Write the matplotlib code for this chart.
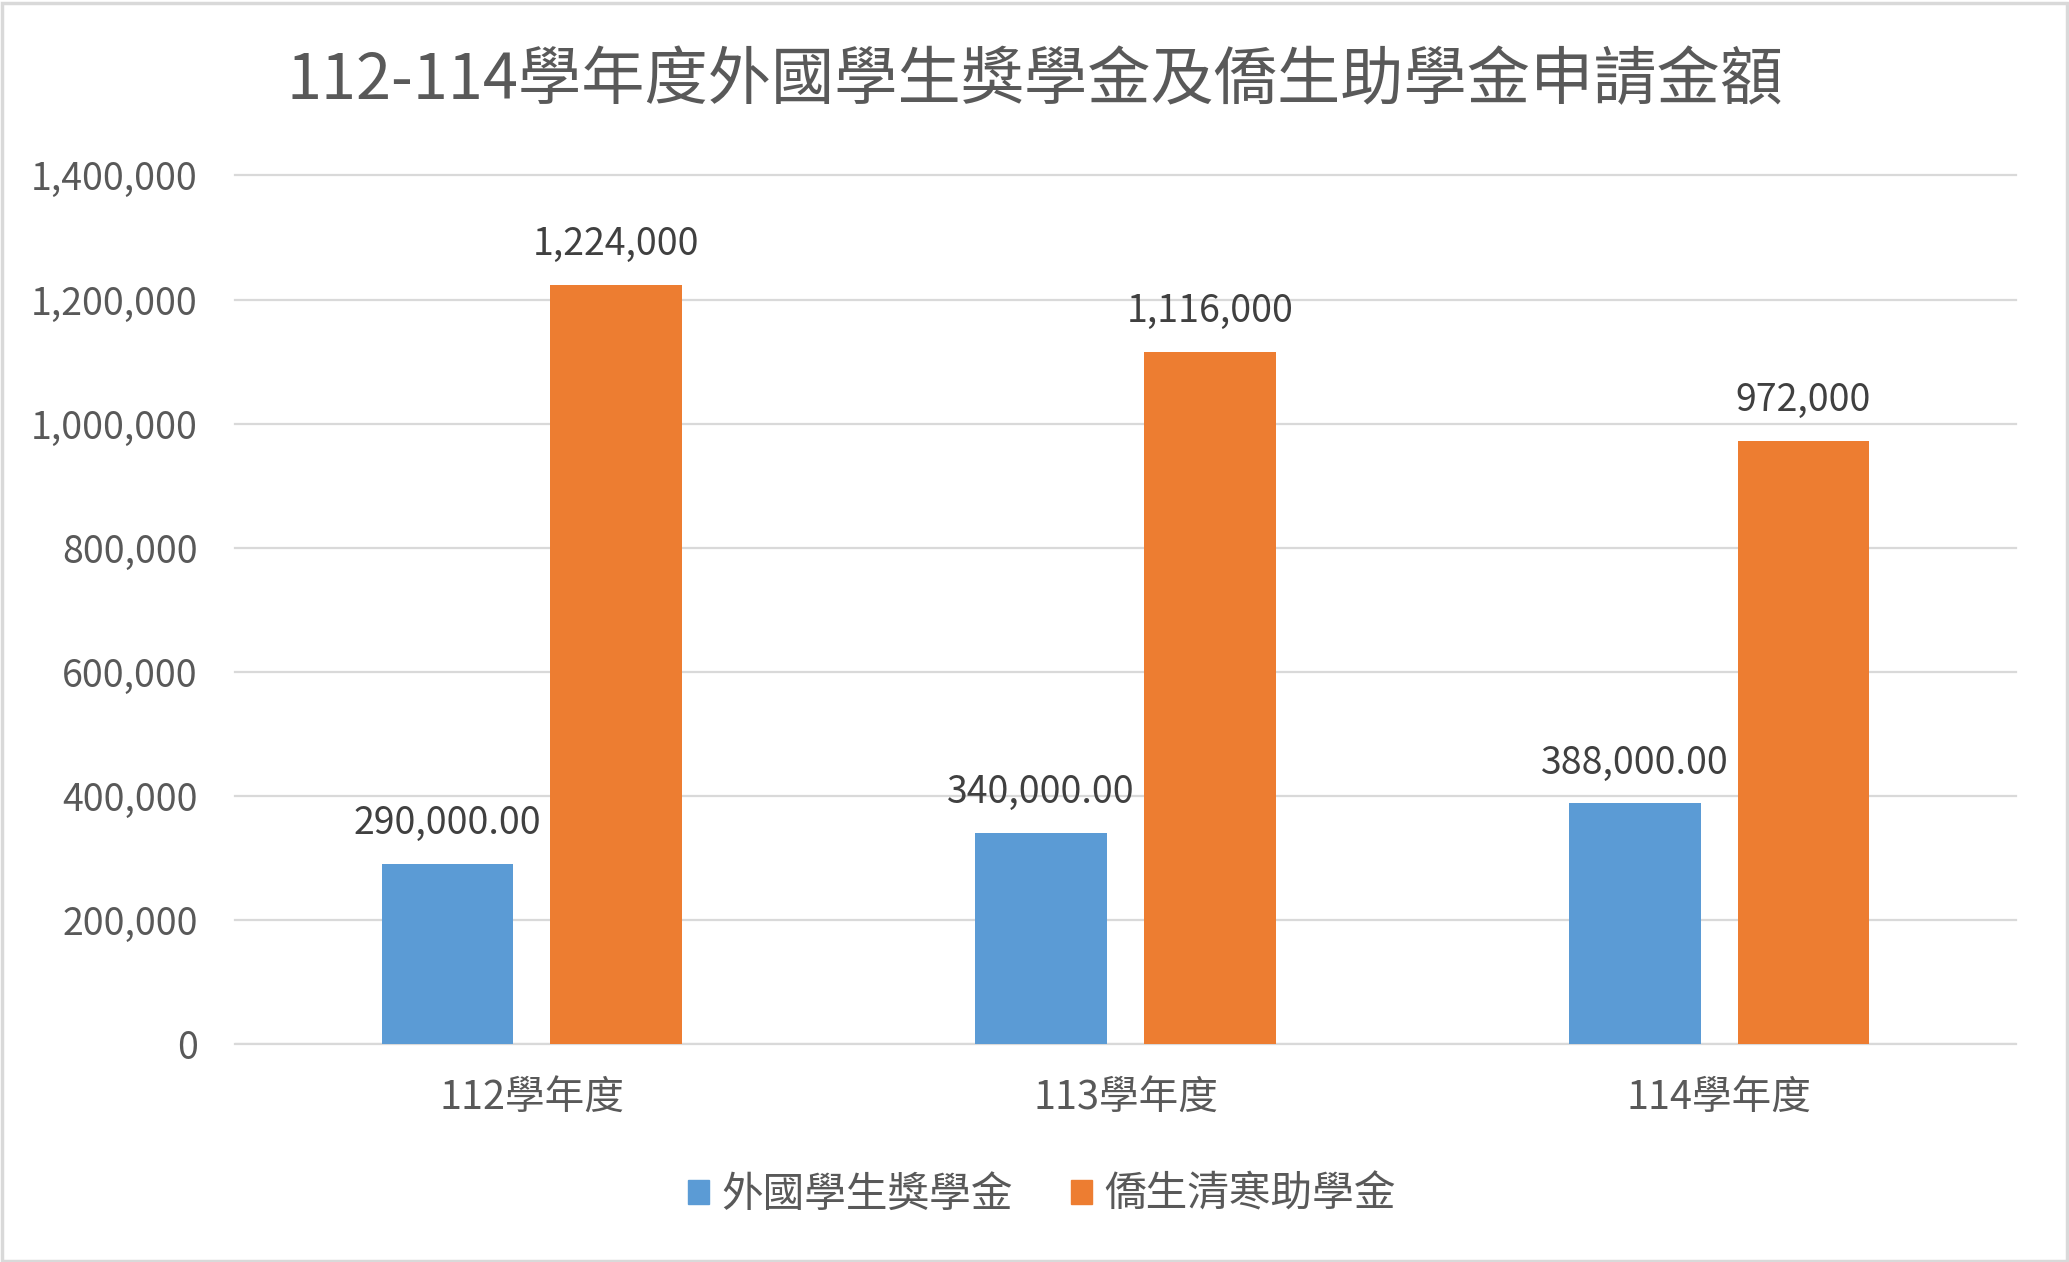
import matplotlib
matplotlib.use("Agg")
import matplotlib.pyplot as plt
import numpy as np
from matplotlib.patches import Patch, Rectangle

plt.rcParams["font.family"] = ["Noto Sans CJK TC", "DejaVu Sans"]

# -------------------------------
# DATA
# -------------------------------
years = ["112學年度", "113學年度", "114學年度"]
series_names = ["外國學生獎學金", "僑生清寒助學金"]
foreign = [290000, 340000, 388000]
overseas = [1224000, 1116000, 972000]
yticks = [0, 200000, 400000, 600000, 800000, 1000000, 1200000, 1400000]

BLUE = "#5B9BD5"
ORANGE = "#ED7D31"
GRID = "#D9D9D9"
TXT = "#595959"
LBL = "#404040"

fig = plt.figure(figsize=(20.69, 12.62), dpi=100)
ax = fig.add_axes([0.1136, 0.1727, 0.8608, 0.6883])

x = np.arange(len(years))
w = 0.222
off = 0.142

b1 = ax.bar(x - off, foreign, w, color=BLUE, zorder=3)
b2 = ax.bar(x + off, overseas, w, color=ORANGE, zorder=3)

for rect, v in zip(b1, foreign):
    ax.annotate(f"{v:,.2f}", (rect.get_x() + rect.get_width() / 2, v),
                xytext=(0, 29), textcoords="offset points",
                ha="center", va="center", fontsize=27, color=LBL)
for rect, v in zip(b2, overseas):
    ax.annotate(f"{v:,.0f}", (rect.get_x() + rect.get_width() / 2, v),
                xytext=(0, 29), textcoords="offset points",
                ha="center", va="center", fontsize=27, color=LBL)

ax.set_xlim(-0.5, len(years) - 0.5)
ax.set_ylim(0, 1400000)
ax.set_yticks(yticks)
ax.set_yticklabels([f"{t:,}" for t in yticks])
ax.set_xticks(x)
ax.set_xticklabels(years)
ax.tick_params(axis="y", length=0, pad=27, labelsize=27, labelcolor=TXT)
ax.tick_params(axis="x", length=0, pad=25, labelsize=28.5, labelcolor=TXT)
ax.yaxis.grid(True, color=GRID, linewidth=1.6, zorder=0)
ax.set_axisbelow(True)
for s in ax.spines.values():
    s.set_visible(False)
ax.axhline(0, color=GRID, linewidth=1.6, zorder=2)
for gl in ax.get_ygridlines():
    gl.set_clip_on(False)

fig.text(0.5, 1 - 81 / 1262, "112-114學年度外國學生獎學金及僑生助學金申請金額",
         ha="center", va="center", fontsize=45.5, color=TXT)

handles = [Patch(color=BLUE), Patch(color=ORANGE)]
fig.legend(handles, series_names, loc="center", bbox_to_anchor=(0.5035, 1 - 1195 / 1262),
           ncol=2, frameon=False, fontsize=30, labelcolor=TXT,
           handlelength=0.5, handleheight=0.5, handletextpad=0.3, columnspacing=1.4)

fig.patches.append(Rectangle((0.001, 0.001), 0.998, 0.997, transform=fig.transFigure,
                             fill=False, edgecolor=GRID, linewidth=2.5))

fig.savefig("out.png", dpi=100)
